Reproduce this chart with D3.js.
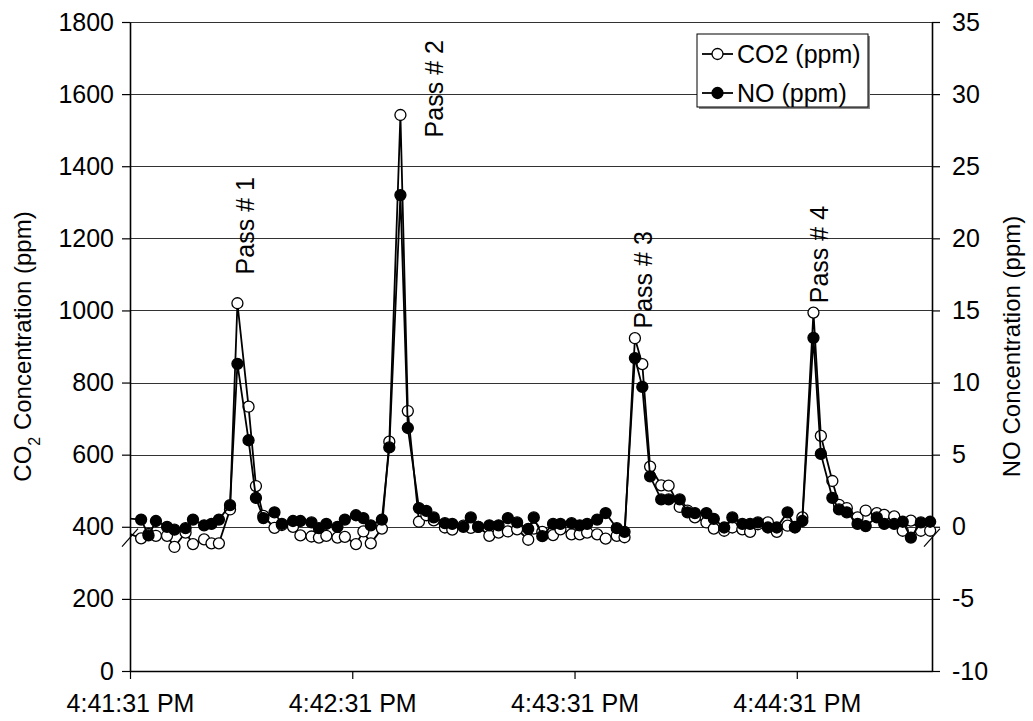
<!DOCTYPE html>
<html>
<head>
<meta charset="utf-8">
<script src="https://cdn.jsdelivr.net/npm/d3@7"></script>
<style>
  body { margin: 0; background: #fff; }
  text { font-family: "Liberation Sans", Arial, sans-serif; fill: #000; }
</style>
</head>
<body>
<script>
// seconds after 4:41:31 PM
var seconds = [-2, 3, 5, 7, 10, 12, 15, 17, 20, 22, 24, 27, 29, 32, 34, 36, 39, 41, 44, 46, 49, 51, 53,
    56, 58, 61, 63, 65, 68, 70, 73, 75, 78, 80, 82, 85, 87, 90, 92, 94, 97, 99.5, 102, 104.5, 107.5, 109,
    111.3, 114.2, 116.2, 119.2, 121.4, 123.4, 126.1, 128.4, 131.4, 133.5, 136.3, 138.3, 140.4, 143.4, 145.4, 148.4, 150.5, 152.5, 155.6, 157.6, 160.4, 162.6,
    165.3, 167.4, 169.5, 172.2, 174.6, 177.5, 179.5, 181.5, 184.5, 186.5, 189.6, 191.4, 193.5, 196.4, 198.6, 201.6, 203.6, 206.3, 208.6, 210.8, 213.5, 216];

var co2 = [388, 368, 380, 375, 375, 344, 384, 352, 365, 354, 354, 448, 1020, 733, 513, 430, 397, 405, 400, 376, 373, 370, 375,
    370, 372, 352, 387, 354, 395, 636, 1542, 721, 414, 432, 418, 398, 392, 403, 397, 400, 375, 384, 387, 393, 364, 395,
    386, 377, 393, 379, 379, 384, 379, 367, 375, 371, 923, 851, 567, 515, 514, 455, 445, 426, 412, 395, 389, 398,
    393, 386, 407, 412, 386, 403, 400, 426, 994, 652, 527, 461, 452, 426, 445, 438, 433, 429, 389, 417, 389, 389];

var no = [0.6, 0.5, -0.6, 0.4, 0.0, -0.2, -0.1, 0.5, 0.1, 0.2, 0.5, 1.5, 11.3, 6.0, 2.0, 0.6, 1.0, 0.2, 0.4, 0.4, 0.3, -0.1, 0.2,
    0.0, 0.5, 0.8, 0.6, 0.1, 0.5, 5.5, 23.0, 6.85, 1.3, 1.1, 0.65, 0.25, 0.2, 0.0, 0.65, 0.0, 0.1, 0.1, 0.6, 0.3, -0.15, 0.65,
    -0.65, 0.2, 0.2, 0.25, 0.1, 0.2, 0.5, 0.95, -0.1, -0.35, 11.7, 9.7, 3.5, 1.9, 1.9, 1.9, 1.0, 0.95, 0.95, 0.55, -0.05, 0.65,
    0.2, 0.2, 0.3, -0.05, -0.05, 1.0, -0.05, 0.4, 13.1, 5.05, 2.0, 1.2, 1.0, 0.2, 0.05, 0.65, 0.2, 0.2, 0.35, -0.75, 0.3, 0.35];

var co2Ticks = [0, 200, 400, 600, 800, 1000, 1200, 1400, 1600, 1800];
var noTicks = [-10, -5, 0, 5, 10, 15, 20, 25, 30, 35];
var timeTicks = [0, 60, 120, 180];
var timeEnd = 216.5;

var passNames = ["Pass # 1", "Pass # 2", "Pass # 3", "Pass # 4"];
var passTime = [33.5, 84.5, 141, 188.5];
var passLevel = [1100, 1480, 950, 1020];

var seriesNames = ["CO2 (ppm)", "NO (ppm)"];

(function chart() {
    var width = 1033, height = 721,
        left = 130, right = 932, top = 22, bottom = 671;

    var start = new Date(2000, 0, 1, 16, 41, 31);
    function at(s) { return new Date(start.getTime() + s * 1000); }

    var svg = d3.select("body").append("svg")
        .attr("width", width)
        .attr("height", height);

    var x = d3.scaleTime().domain([start, at(timeEnd)]).range([left, right]),
        yL = d3.scaleLinear().domain([0, 1800]).range([bottom, top]),
        yR = d3.scaleLinear().domain([-10, 35]).range([bottom, top]);

    // gridlines
    svg.append("g").selectAll("line")
        .data(co2Ticks.filter(function (d) { return d > 0; }))
        .enter().append("line")
        .attr("x1", left).attr("x2", right)
        .attr("y1", function (d) { return Math.round(yL(d)) + 0.5; })
        .attr("y2", function (d) { return Math.round(yL(d)) + 0.5; })
        .attr("stroke", "#333")
        .attr("stroke-width", 1);

    var font = "25px";
    var plain = function (d) { return "" + d; };

    var gl = svg.append("g")
        .attr("transform", "translate(" + left + ",0)")
        .call(d3.axisLeft(yL).tickValues(co2Ticks).tickFormat(plain)
            .tickSize(8).tickSizeOuter(0).tickPadding(8));
    var gr = svg.append("g")
        .attr("transform", "translate(" + right + ",0)")
        .call(d3.axisRight(yR).tickValues(noTicks).tickFormat(plain)
            .tickSize(8).tickSizeOuter(0).tickPadding(12));
    var gb = svg.append("g")
        .attr("transform", "translate(0," + bottom + ")")
        .call(d3.axisBottom(x)
            .tickValues(timeTicks.map(at))
            .tickFormat(d3.timeFormat("%-I:%M:%S %p"))
            .tickSize(8).tickSizeOuter(0).tickPadding(15));

    [gl, gr, gb].forEach(function (g) {
        g.selectAll("text").style("font-size", font).attr("font-family", null);
        g.selectAll("line").attr("stroke", "#000").attr("stroke-width", 1.2);
        g.select(".domain").attr("stroke", "#000").attr("stroke-width", 1.6);
        g.attr("font-family", null).attr("font-size", null);
    });

    // axis break marks
    [left, right].forEach(function (ax) {
        var by = yL(370);
        svg.append("line")
            .attr("x1", ax - 8).attr("y1", by + 9)
            .attr("x2", ax + 8).attr("y2", by - 9)
            .attr("stroke", "#000").attr("stroke-width", 1.2);
    });

    // series
    svg.append("clipPath").attr("id", "plot")
        .append("rect").attr("x", left).attr("y", top - 10)
        .attr("width", right - left + 8).attr("height", bottom - top + 10);

    var plot = svg.append("g").attr("clip-path", "url(#plot)");

    var lineCO2 = d3.line()
        .x(function (d, i) { return x(at(seconds[i])); })
        .y(function (d) { return yL(d); });
    var lineNO = d3.line()
        .x(function (d, i) { return x(at(seconds[i])); })
        .y(function (d) { return yR(d); });

    plot.append("path").datum(co2)
        .attr("d", lineCO2)
        .attr("fill", "none").attr("stroke", "#000").attr("stroke-width", 1.8);
    plot.selectAll(".co2").data(co2).enter().append("circle")
        .attr("class", "co2")
        .attr("cx", function (d, i) { return x(at(seconds[i])); })
        .attr("cy", function (d) { return yL(d); })
        .attr("r", 5.5)
        .attr("fill", "#fff").attr("stroke", "#000").attr("stroke-width", 1.3);

    plot.append("path").datum(no)
        .attr("d", lineNO)
        .attr("fill", "none").attr("stroke", "#000").attr("stroke-width", 1.8);
    plot.selectAll(".no").data(no).enter().append("circle")
        .attr("class", "no")
        .attr("cx", function (d, i) { return x(at(seconds[i])); })
        .attr("cy", function (d) { return yR(d); })
        .attr("r", 5.5)
        .attr("fill", "#000").attr("stroke", "#000").attr("stroke-width", 1.3);

    // pass labels
    svg.selectAll(".pass").data(passNames).enter().append("text")
        .attr("class", "pass")
        .attr("transform", function (d, i) {
            return "translate(" + x(at(passTime[i])) + "," + yL(passLevel[i]) + ") rotate(-90)";
        })
        .style("font-size", font)
        .text(function (d) { return d; });

    // axis titles
    var tl = svg.append("text")
        .attr("transform", "translate(23," + (top + bottom) / 2 + ") rotate(-90)")
        .attr("text-anchor", "middle")
        .attr("dy", "0.35em")
        .style("font-size", "24px");
    tl.append("tspan").text("CO");
    tl.append("tspan").attr("baseline-shift", "sub").style("font-size", "16px").text("2");
    tl.append("tspan").text(" Concentration (ppm)");

    svg.append("text")
        .attr("transform", "translate(1012," + (top + bottom) / 2 + ") rotate(-90)")
        .attr("text-anchor", "middle")
        .attr("dy", "0.35em")
        .style("font-size", "24px")
        .text("NO Concentration (ppm)");

    // legend
    var lx = 697, ly = 34, lw = 868 - lx, lh = 73;
    svg.append("rect").attr("x", lx + 2).attr("y", ly + 2).attr("width", lw).attr("height", lh)
        .attr("fill", "#888");
    svg.append("rect").attr("x", lx).attr("y", ly).attr("width", lw).attr("height", lh)
        .attr("fill", "#fff").attr("stroke", "#000").attr("stroke-width", 1);

    var rows = svg.selectAll(".leg").data(seriesNames).enter().append("g")
        .attr("class", "leg")
        .attr("transform", function (d, i) { return "translate(" + lx + "," + (ly + 20 + i * 39) + ")"; });
    rows.append("line").attr("x1", 5).attr("x2", 36)
        .attr("stroke", "#000").attr("stroke-width", 1.8);
    rows.append("circle").attr("cx", 20.5).attr("r", 5.5)
        .attr("fill", function (d, i) { return i === 0 ? "#fff" : "#000"; })
        .attr("stroke", "#000").attr("stroke-width", 1.3);
    rows.append("text").attr("x", 40).attr("dy", "0.35em")
        .style("font-size", font)
        .text(function (d) { return d; });
}());
</script>
</body>
</html>
